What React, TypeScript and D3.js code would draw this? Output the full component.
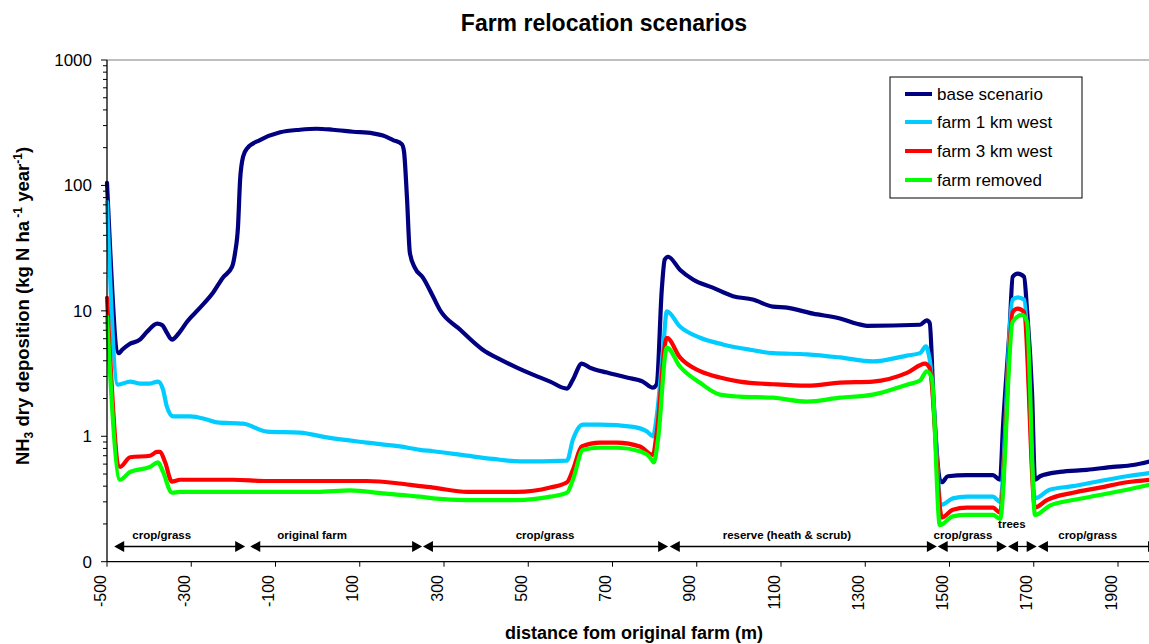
import React from "react";
import * as d3 from "d3";

// Distance from the original farm (m) and NH3 dry deposition (kg N ha-1 year-1)
const baseDist = [-500, -472, -464, -448, -422, -405, -381, -369, -358, -346, -327, -310, -279, -248, -225, -203, -196, -189, -184, -177, -167, -137, -89, -42, -2, 36, 84, 131, 155, 179, 200, 205, 212, 219, 231, 250, 274, 290, 338, 392, 433, 473, 511, 552, 592, 606, 627, 646, 687, 734, 772, 796, 805, 817, 824, 832, 860, 891, 938, 986, 1033, 1081, 1114, 1176, 1240, 1280, 1304, 1430, 1446, 1453, 1462, 1477, 1482, 1496, 1541, 1603, 1620, 1627, 1643, 1650, 1662, 1677, 1684, 1696, 1703, 1715, 1762, 1826, 1888, 1936, 1975];
const baseVal = [105, 4.6, 4.9, 5.4, 5.9, 6.8, 7.9, 7.7, 6.7, 5.9, 6.8, 8.2, 10.6, 14.0, 18.4, 22.5, 29, 47, 111, 169, 198, 230, 265, 278, 283, 278, 268, 260, 250, 230, 213, 187, 81, 29, 22, 18.4, 13, 10.2, 7.1, 4.9, 4.1, 3.53, 3.1, 2.73, 2.4, 2.83, 3.8, 3.53, 3.22, 2.94, 2.73, 2.44, 2.6, 14.8, 25.6, 27, 21.3, 17.8, 15.3, 13.1, 12.3, 10.8, 10.6, 9.5, 8.7, 7.9, 7.6, 7.75, 8.4, 8.0, 2.0, 0.45, 0.43, 0.48, 0.49, 0.49, 0.45, 1.2, 7.5, 18.7, 19.8, 18.7, 10.2, 2.2, 0.45, 0.48, 0.52, 0.54, 0.57, 0.59, 0.63];

const west1Dist = [-500, -474, -445, -422, -398, -379, -367, -358, -343, -303, -263, -239, -177, -120, -42, 22, 117, 195, 243, 274, 355, 416, 480, 592, 606, 630, 670, 749, 782, 796, 805, 820, 829, 860, 908, 962, 1026, 1081, 1162, 1240, 1318, 1399, 1430, 1444, 1453, 1482, 1508, 1541, 1603, 1620, 1650, 1662, 1677, 1703, 1738, 1793, 1857, 1921, 1975];
const west1Val = [74, 2.58, 2.73, 2.63, 2.63, 2.73, 2.36, 1.73, 1.44, 1.44, 1.36, 1.29, 1.26, 1.09, 1.07, 0.98, 0.89, 0.83, 0.78, 0.76, 0.7, 0.66, 0.63, 0.64, 0.94, 1.24, 1.24, 1.19, 1.09, 1.0, 1.44, 4.9, 9.9, 7.5, 6.1, 5.4, 4.9, 4.6, 4.5, 4.25, 3.95, 4.4, 4.6, 5.2, 4.1, 0.285, 0.32, 0.33, 0.33, 0.3, 12.3, 12.8, 12.3, 0.32, 0.375, 0.4, 0.44, 0.48, 0.51];

const west3Dist = [-500, -469, -445, -398, -381, -374, -362, -346, -327, -201, -120, 117, 195, 243, 274, 355, 473, 552, 592, 606, 627, 670, 711, 765, 796, 805, 829, 860, 908, 955, 1002, 1081, 1162, 1240, 1318, 1399, 1442, 1453, 1482, 1508, 1541, 1603, 1620, 1650, 1662, 1677, 1703, 1731, 1793, 1857, 1921, 1975];
const west3Val = [12.7, 0.57, 0.68, 0.7, 0.75, 0.75, 0.62, 0.435, 0.45, 0.45, 0.44, 0.44, 0.42, 0.4, 0.39, 0.36, 0.36, 0.39, 0.43, 0.54, 0.83, 0.89, 0.89, 0.83, 0.71, 1.07, 6.1, 4.25, 3.3, 2.94, 2.73, 2.6, 2.53, 2.68, 2.73, 3.2, 3.8, 3.5, 0.225, 0.26, 0.27, 0.27, 0.246, 9.8, 10.4, 9.8, 0.27, 0.31, 0.355, 0.39, 0.43, 0.45];

const removedDist = [-500, -469, -445, -398, -379, -367, -346, -327, -239, -161, -82, -2, 77, 155, 243, 274, 355, 473, 552, 592, 606, 630, 670, 711, 765, 789, 798, 808, 829, 860, 908, 955, 1002, 1081, 1162, 1240, 1318, 1399, 1430, 1446, 1458, 1477, 1508, 1541, 1603, 1620, 1650, 1672, 1684, 1703, 1738, 1793, 1857, 1921, 1975];
const removedVal = [9.0, 0.45, 0.52, 0.57, 0.62, 0.52, 0.355, 0.36, 0.36, 0.36, 0.36, 0.36, 0.37, 0.35, 0.33, 0.32, 0.31, 0.31, 0.33, 0.355, 0.45, 0.78, 0.81, 0.81, 0.76, 0.68, 0.62, 0.94, 5.1, 3.6, 2.67, 2.15, 2.07, 2.03, 1.89, 2.03, 2.15, 2.58, 2.78, 3.3, 2.9, 0.196, 0.23, 0.236, 0.236, 0.22, 8.2, 9.3, 8.2, 0.236, 0.28, 0.31, 0.34, 0.375, 0.41];

const seriesNames = ["base scenario", "farm 1 km west", "farm 3 km west", "farm removed"];
const seriesColors = ["#000080", "#00CCFF", "#FF0000", "#00FF00"];

const xTicks = [-500, -300, -100, 100, 300, 500, 700, 900, 1100, 1300, 1500, 1700, 1900];
const yMajorTicks = [0.1, 1, 10, 100, 1000];
const yTickLabels = ["0", "1", "10", "100", "1000"];

// Land-use zones along the transect: start, end, label position
const zoneLabels = ["crop/grass", "original farm", "crop/grass", "reserve (heath & scrub)", "crop/grass", "trees", "crop/grass"];
const zoneStart = [-483, -160, 250, 836, 1472, 1639, 1710];
const zoneEnd = [-172, 248, 832, 1470, 1636, 1707, 1995];
const zoneLabelAt = [-370, -13, 540, 1114, 1532, 1648, 1828];

const FONT = "'Liberation Sans', Arial, Helvetica, sans-serif";

export default function App() {
  const width = 1149;
  const height = 644;
  const left = 107;
  const top = 60;
  const bottom = 561.7;

  const x = d3.scaleLinear().domain([-500, 2000]).range([left, left + 2500 * 0.42125]);
  const y = d3.scaleLog().domain([0.1, 1000]).range([bottom, top]);

  const series = [
    { dist: baseDist, val: baseVal },
    { dist: west1Dist, val: west1Val },
    { dist: west3Dist, val: west3Val },
    { dist: removedDist, val: removedVal },
  ];

  const line = d3
    .line<[number, number]>()
    .x((d) => x(d[0]))
    .y((d) => y(d[1]))
    .curve(d3.curveMonotoneX);

  const minorTicks: number[] = [];
  for (let dec = 0.1; dec < 1000; dec *= 10) {
    for (let k = 2; k <= 9; k++) minorTicks.push(+(dec * k).toPrecision(3));
  }

  const arrowY = 546.5;
  const arrowHead = (tipX: number, dir: number) =>
    `M${tipX},${arrowY} L${tipX - dir * 10},${arrowY - 5.5} L${tipX - dir * 10},${arrowY + 5.5} Z`;

  const legendX = 890;
  const legendY = 77;
  const legendRows = [94, 122, 151, 180];

  return (
    <svg
      width={width}
      height={height}
      style={{ position: "absolute", left: 0, top: 0, background: "#fff" }}
      fontFamily={FONT}
    >
      <rect x={0} y={0} width={width} height={height} fill="#fff" />

      {/* title */}
      <text x={604} y={31} textAnchor="middle" fontWeight="bold" fontSize={23}>
        Farm relocation scenarios
      </text>

      {/* plot frame */}
      <line x1={left} x2={width} y1={top} y2={top} stroke="#808080" strokeWidth={1.2} />

      {/* zone arrows */}
      {zoneLabels.map((lab, i) => {
        const x0 = x(zoneStart[i]);
        const x1 = x(zoneEnd[i]);
        return (
          <g key={"z" + i}>
            <line x1={x0 + 8} x2={x1 - 8} y1={arrowY} y2={arrowY} stroke="#000" strokeWidth={1.3} />
            <path d={arrowHead(x0, -1)} fill="#000" />
            <path d={arrowHead(x1, 1)} fill="#000" />
            <text
              x={x(zoneLabelAt[i])}
              y={lab === "trees" ? 528 : 539}
              textAnchor="middle"
              fontWeight="bold"
              fontSize={11.5}
            >
              {lab}
            </text>
          </g>
        );
      })}

      {/* series */}
      {series.map((s, i) => {
        const pts = s.dist.map((d, j) => [d, s.val[j]] as [number, number]);
        return (
          <path
            key={"s" + i}
            d={line(pts) || ""}
            fill="none"
            stroke={seriesColors[i]}
            strokeWidth={4.2}
            strokeLinejoin="round"
            strokeLinecap="round"
          />
        );
      })}

      {/* y axis */}
      <line x1={left} x2={left} y1={top} y2={bottom} stroke="#000" strokeWidth={1.3} />
      {minorTicks.map((t) => (
        <line key={"m" + t} x1={left - 4} x2={left} y1={y(t)} y2={y(t)} stroke="#000" strokeWidth={1} />
      ))}
      {yMajorTicks.map((t, i) => (
        <g key={"y" + t}>
          <line x1={left - 6} x2={left} y1={y(t)} y2={y(t)} stroke="#000" strokeWidth={1} />
          <text x={92} y={y(t) + 6} textAnchor="end" fontSize={17}>
            {yTickLabels[i]}
          </text>
        </g>
      ))}

      {/* x axis */}
      <line x1={left} x2={width} y1={bottom} y2={bottom} stroke="#000" strokeWidth={1.3} />
      {xTicks.map((t) => (
        <g key={"x" + t}>
          <line x1={x(t)} x2={x(t)} y1={bottom} y2={bottom + 5} stroke="#000" strokeWidth={1} />
          <text
            transform={`translate(${x(t) - 1.5},${575}) rotate(-90)`}
            textAnchor="end"
            fontSize={16}
          >
            {t}
          </text>
        </g>
      ))}

      {/* axis titles */}
      <text x={634} y={639} textAnchor="middle" fontWeight="bold" fontSize={18}>
        distance fom original farm (m)
      </text>
      <text
        transform={`translate(29,306) rotate(-90)`}
        textAnchor="middle"
        fontWeight="bold"
        fontSize={18.5}
      >
        NH
        <tspan fontSize={12} dy={4}>3</tspan>
        <tspan dy={-4}> dry deposition (kg N ha</tspan>
        <tspan fontSize={12} dy={-7}> -1</tspan>
        <tspan dy={7}> year</tspan>
        <tspan fontSize={12} dy={-7}>-1</tspan>
        <tspan dy={7}>)</tspan>
      </text>

      {/* legend */}
      <rect x={legendX} y={legendY} width={192} height={121} fill="#fff" stroke="#000" strokeWidth={1} />
      {seriesNames.map((n, i) => (
        <g key={"l" + i}>
          <line x1={905} x2={932} y1={legendRows[i]} y2={legendRows[i]} stroke={seriesColors[i]} strokeWidth={4} />
          <text x={937} y={legendRows[i] + 6} fontSize={17}>
            {n}
          </text>
        </g>
      ))}
    </svg>
  );
}
